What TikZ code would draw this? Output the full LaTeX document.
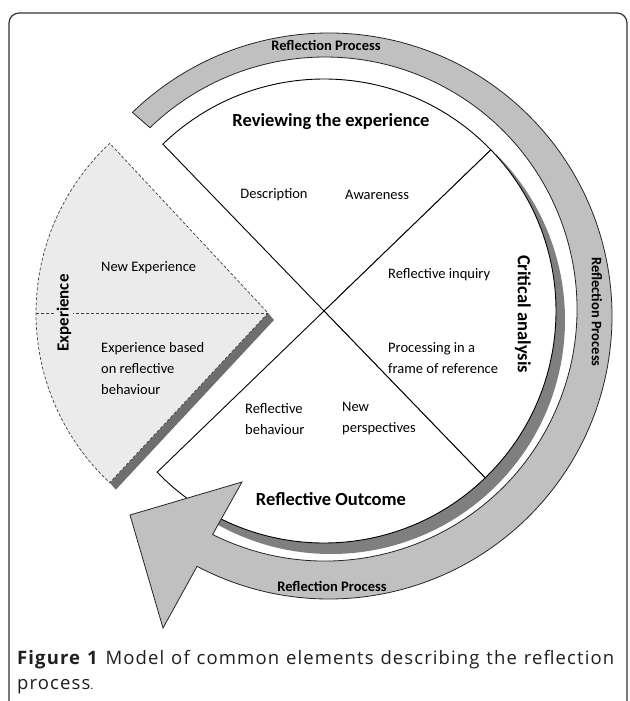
\documentclass[tikz,border=0pt]{standalone}
\usepackage{fontspec}
\setmainfont{Carlito}
\newfontfamily\capfont[LetterSpace=6]{Open Sans}
\usetikzlibrary{calc}
\definecolor{bandc}{HTML}{C0C0C0}
\definecolor{shadc}{HTML}{7F7F7F}
\definecolor{wedgec}{HTML}{EBEBEB}
\definecolor{wshadc}{HTML}{6E6E6E}
\begin{document}
\begin{tikzpicture}[x=1pt,y=-1pt,
  lbl/.style={font=\fontsize{14.5}{21}\selectfont, inner sep=0pt, align=left},
  ttl/.style={font=\fontsize{18.5}{22}\selectfont\bfseries, inner sep=0pt},
  rp/.style={font=\fontsize{14.5}{16}\selectfont\bfseries, inner sep=0pt},
  qd/.style={draw=black, fill=white, line width=0.9pt, line join=miter},
  bandst/.style={draw=black!85, fill=bandc, line width=0.8pt, line join=miter},
  wdash/.style={draw=black!75, dash pattern=on 3pt off 2pt, line width=0.7pt},
  capst/.style={anchor=base west, inner sep=0pt, font=\capfont\fontsize{18.5}{22}\selectfont, text=black!88}]
\useasboundingbox (0,0) rectangle (629,701);
\fill[white] (0,0) rectangle (629,701);
\draw[line width=1.2pt, rounded corners=10pt, draw=black!80] (9,13) rectangle (627,760);

% circle drop shadow
\fill[shadc] (331,320) -- ++(-45:234) arc[start angle=-45, end angle=120, radius=234] -- cycle;

% quadrants
\coordinate (C) at (324,311);
\draw[qd] (C) -- ++(-134:232) arc[start angle=-134, end angle=-44, radius=232] -- cycle;
\draw[qd] (C) -- ++(-44:232) arc[start angle=-44, end angle=46, radius=232] -- cycle;
\draw[qd] (C) -- ++(46:232) arc[start angle=46, end angle=136, radius=232] -- cycle;

% experience wedge
\coordinate (A) at (268,313);
\fill[wshadc] ($(A)+(133:232)$) -- (A) -- ($(A)+(6,7)$) -- ($(A)+(133:232)+(6,7)$) -- cycle;
\fill[wedgec] (A) -- ++(133:232) arc[start angle=133, end angle=227, radius=232] -- cycle;
\draw[wdash] (A) -- ++(133:232) arc[start angle=133, end angle=227, radius=232] -- cycle;
\draw[wdash] (36,313) -- (A);

% reflection process band with arrow head
\draw[bandst] ($(329,316)+(-134:283)$) arc[start angle=-134, end angle=117.8, radius=283]
  -- (163,628) -- (130,515) -- (242,482)
  -- ($(325,309)+(116.5:252)$) arc[start angle=116.5, end angle=-134, radius=252] -- cycle;

% texts
\node[ttl] (rev) at (331,122) {Reviewing the experience};
\node[lbl] (desc) at (274,195) {Description};
\node[lbl] (aw) at (377,195) {Awareness};
\node[lbl, anchor=west] (ri) at (388,275) {Reflective inquiry};
\node[lbl, anchor=west] (pf) at (388,358) {Processing in a\\frame of reference};
\node[ttl, rotate=-90] (ca) at (523,314) {Critical analysis};
\node[lbl, anchor=west] (rb) at (245,419) {Reflective\\behaviour};
\node[lbl, anchor=west] (np) at (342,419) {New\\perspectives};
\node[ttl] (ro) at (331,499) {Reflective Outcome};
\node[lbl, anchor=west] (ne) at (101,268) {New Experience};
\node[lbl, anchor=west] (eb) at (101,369) {Experience based\\on reflective\\behaviour};
\node[font=\fontsize{17}{20}\selectfont\bfseries, rotate=90, fill=wedgec, inner sep=2pt] (ex) at (64,313) {Experience};
\node[rp] (rp1) at (326,45) {Reflection Process};
\node[rp, rotate=-90] (rp2) at (597,312) {Reflection Process};
\node[rp] (rp3) at (332,586) {Reflection Process};

% caption
\node[capst] (cap1) at (17,664)
  {\makebox[597pt][s]{\textbf{Figure 1} Model of common elements describing the reflection}};
\node[capst] (cap2) at (17,689)
  {process{\fontsize{12}{14}\selectfont.}};
\end{tikzpicture}
\end{document}
